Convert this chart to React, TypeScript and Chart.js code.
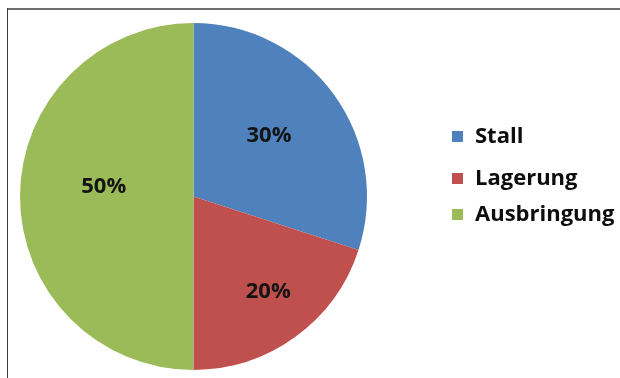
import React, { useEffect, useRef } from "react";
import { Chart, registerables } from "chart.js";

Chart.register(...registerables);

const categories = ["Stall", "Lagerung", "Ausbringung"];
const values = [30, 20, 50];
const valueLabels = ["30%", "20%", "50%"];
const colors = ["#4F81BD", "#C0504D", "#9BBB59"];

// label placement: fraction of radius and angle nudge (degrees)
const labelRadiusFrac = [0.56, 0.7, 0.52];
const labelAngleNudge = [-3, -2, 6];
// legend rows: text baselines
const legendBaselines = [143, 185, 221];

const FONT = '"Open Sans", "DejaVu Sans", sans-serif';

const framePlugin = {
  id: "frame",
  beforeDraw(chart: any) {
    const ctx = chart.ctx;
    ctx.save();
    ctx.fillStyle = "#ffffff";
    ctx.fillRect(0, 0, chart.width, chart.height);
    ctx.fillStyle = "#6e6e6e";
    ctx.fillRect(7, 8, chart.width - 7, 2);
    ctx.fillStyle = "#3a3a3a";
    ctx.fillRect(7, 8, 1, chart.height - 8);
    ctx.restore();
  },
};

const labelPlugin = {
  id: "sliceLabels",
  afterDatasetsDraw(chart: any) {
    const ctx = chart.ctx;
    const meta = chart.getDatasetMeta(0);
    ctx.save();
    ctx.font = `bold 22px ${FONT}`;
    ctx.fillStyle = "#141414";
    ctx.textAlign = "center";
    ctx.textBaseline = "middle";
    meta.data.forEach((arc: any, i: number) => {
      const p = arc.getProps(["x", "y", "startAngle", "endAngle", "outerRadius"], true);
      const mid = (p.startAngle + p.endAngle) / 2 + (labelAngleNudge[i] * Math.PI) / 180;
      const r = p.outerRadius * labelRadiusFrac[i];
      ctx.fillText(valueLabels[i], p.x + Math.cos(mid) * r, p.y + Math.sin(mid) * r);
    });
    ctx.restore();
  },
};

const legendPlugin = {
  id: "customLegend",
  afterDraw(chart: any) {
    const ctx = chart.ctx;
    ctx.save();
    ctx.font = `bold 22px ${FONT}`;
    ctx.textAlign = "left";
    ctx.textBaseline = "alphabetic";
    categories.forEach((c, i) => {
      const b = legendBaselines[i];
      ctx.fillStyle = colors[i];
      ctx.fillRect(452, b - 12, 11, 11);
      ctx.fillStyle = "#0d0d0d";
      ctx.fillText(c, 475, b);
    });
    ctx.restore();
  },
};

export default function App() {
  const ref = useRef<HTMLCanvasElement | null>(null);
  useEffect(() => {
    if (!ref.current) return;
    const chart = new Chart(ref.current, {
      type: "pie",
      data: {
        labels: categories,
        datasets: [
          {
            data: values,
            backgroundColor: colors,
            borderWidth: 0,
          },
        ],
      },
      options: {
        animation: false,
        responsive: false,
        layout: { padding: { left: 20, right: 253, top: 23, bottom: 8 } },
        plugins: {
          legend: { display: false },
          tooltip: { enabled: false },
        },
      },
      plugins: [framePlugin, labelPlugin, legendPlugin],
    });
    return () => chart.destroy();
  }, []);
  return (
    <div style={{ position: "absolute", left: 0, top: 0, width: 620, height: 378 }}>
      <canvas ref={ref} width={620} height={378} style={{ width: 620, height: 378, display: "block" }} />
    </div>
  );
}
